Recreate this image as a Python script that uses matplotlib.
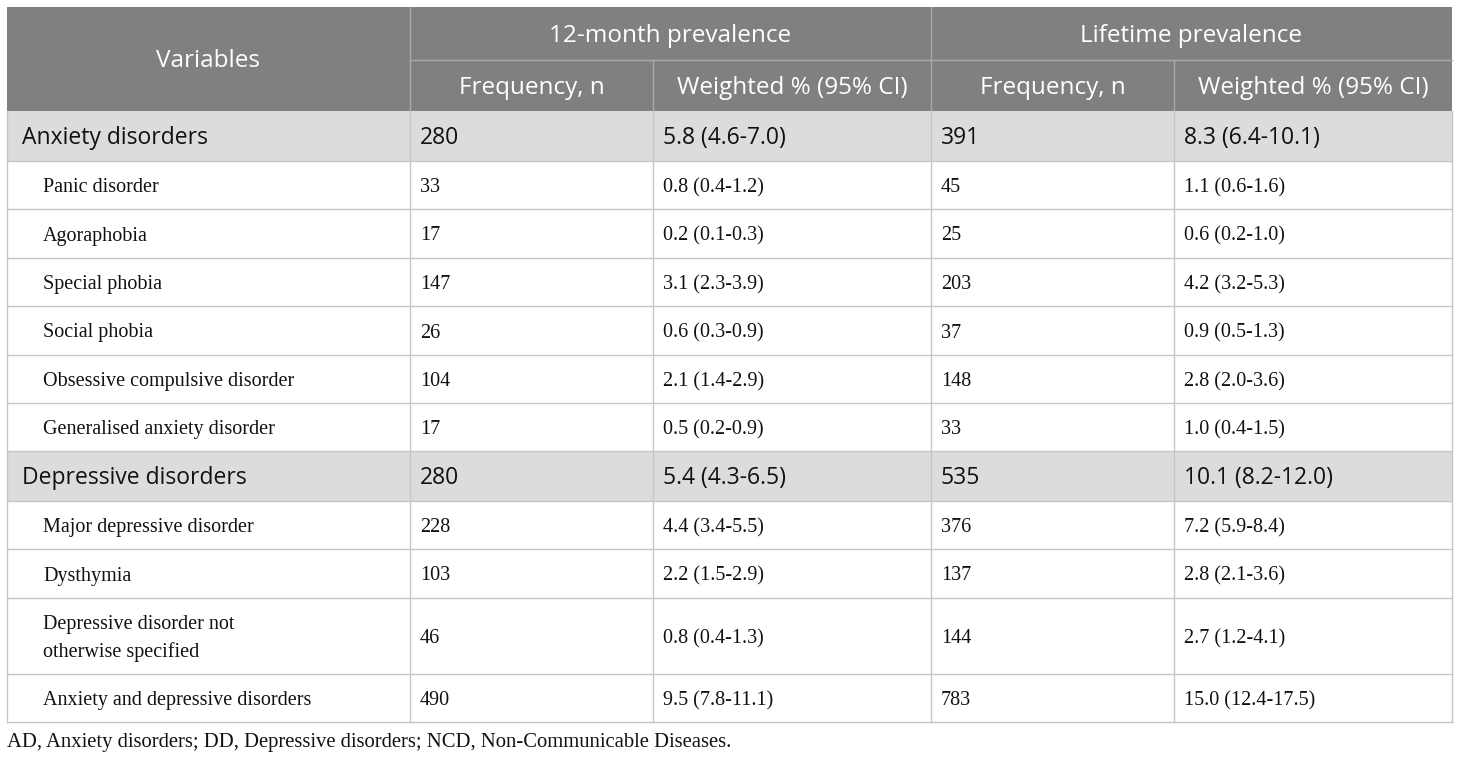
import matplotlib
matplotlib.use("Agg")
import matplotlib.pyplot as plt
from matplotlib.patches import Rectangle

# table content
variables = ["Anxiety disorders", "Panic disorder", "Agoraphobia", "Special phobia",
             "Social phobia", "Obsessive compulsive disorder", "Generalised anxiety disorder",
             "Depressive disorders", "Major depressive disorder", "Dysthymia",
             "Depressive disorder not\notherwise specified", "Anxiety and depressive disorders"]
is_group = [True, False, False, False, False, False, False, True, False, False, False, False]
freq_12m = ["280", "33", "17", "147", "26", "104", "17", "280", "228", "103", "46", "490"]
pct_12m = ["5.8 (4.6-7.0)", "0.8 (0.4-1.2)", "0.2 (0.1-0.3)", "3.1 (2.3-3.9)", "0.6 (0.3-0.9)",
           "2.1 (1.4-2.9)", "0.5 (0.2-0.9)", "5.4 (4.3-6.5)", "4.4 (3.4-5.5)", "2.2 (1.5-2.9)",
           "0.8 (0.4-1.3)", "9.5 (7.8-11.1)"]
freq_life = ["391", "45", "25", "203", "37", "148", "33", "535", "376", "137", "144", "783"]
pct_life = ["8.3 (6.4-10.1)", "1.1 (0.6-1.6)", "0.6 (0.2-1.0)", "4.2 (3.2-5.3)", "0.9 (0.5-1.3)",
            "2.8 (2.0-3.6)", "1.0 (0.4-1.5)", "10.1 (8.2-12.0)", "7.2 (5.9-8.4)", "2.8 (2.1-3.6)",
            "2.7 (1.2-4.1)", "15.0 (12.4-17.5)"]
group_headers = ["12-month prevalence", "Lifetime prevalence"]
sub_headers = ["Frequency, n", "Weighted % (95% CI)"]
footnote = "AD, Anxiety disorders; DD, Depressive disorders; NCD, Non-Communicable Diseases."

# layout in pixels
W, H = 1460, 759
col_x = [7, 410, 653, 931, 1174, 1452]
head_y = [7, 60, 111]
row_h = [50, 48, 49, 48, 49, 48, 48, 50, 48, 49, 76, 48]

head_bg = "#7f8180"
group_bg = "#dcdcdc"
line_c = "#c6c6c6"
sans = ["Open Sans", "DejaVu Sans"]
serif = ["Liberation Serif", "DejaVu Serif"]
fs_head = 17.5
fs_sans = 16.5
fs_serif = 14.5

fig = plt.figure(figsize=(W / 100, H / 100), dpi=100)
ax = fig.add_axes([0, 0, 1, 1])
ax.set_xlim(0, W)
ax.set_ylim(H, 0)
ax.axis("off")

# header
ax.add_patch(Rectangle((col_x[0], head_y[0]), col_x[-1] - col_x[0], head_y[2] - head_y[0],
                       facecolor=head_bg, edgecolor="none"))
ax.text((col_x[0] + col_x[1]) / 2, (head_y[0] + head_y[2]) / 2 + 2, "Variables",
        color="white", fontsize=fs_head, family=sans, ha="center", va="center")
for g in range(2):
    x0, x1 = col_x[1 + 2 * g], col_x[3 + 2 * g]
    ax.text((x0 + x1) / 2, (head_y[0] + head_y[1]) / 2 + 2, group_headers[g],
            color="white", fontsize=fs_head, family=sans, ha="center", va="center")
    for s in range(2):
        a, b = col_x[1 + 2 * g + s], col_x[2 + 2 * g + s]
        ax.text((a + b) / 2, (head_y[1] + head_y[2]) / 2 + 2, sub_headers[s],
                color="white", fontsize=fs_head, family=sans, ha="center", va="center")
# header inner lines
ax.plot([col_x[1], col_x[-1]], [head_y[1], head_y[1]], color="#a8a9a8", lw=1)
for i, x in enumerate(col_x[1:-1]):
    ytop = head_y[0] if i % 2 == 0 else head_y[1]
    ax.plot([x, x], [ytop, head_y[2]], color="#a8a9a8", lw=1)

# body rows
y = head_y[2]
for i in range(len(variables)):
    h = row_h[i]
    cells = [variables[i], freq_12m[i], pct_12m[i], freq_life[i], pct_life[i]]
    if is_group[i]:
        ax.add_patch(Rectangle((col_x[0], y), col_x[-1] - col_x[0], h,
                               facecolor=group_bg, edgecolor="none"))
    for c, txt in enumerate(cells):
        if is_group[i]:
            xpos = col_x[c] + (15 if c == 0 else 10)
            ax.text(xpos, y + h / 2 + 2, txt, fontsize=fs_sans, family=sans,
                    color="#111111", ha="left", va="center")
        else:
            xpos = col_x[c] + (36 if c == 0 else 10)
            ax.text(xpos, y + h / 2 + 2.5, txt, fontsize=fs_serif, family=serif,
                    color="#111111", ha="left", va="center", linespacing=1.5)
    y += h
    ax.plot([col_x[0], col_x[-1]], [y, y], color=line_c, lw=1)

# body vertical lines
for x in col_x:
    ax.plot([x, x], [head_y[2], y], color=line_c, lw=1)

ax.text(7, 742, footnote, fontsize=14.9, family=serif, color="#111111",
        ha="left", va="center")

fig.savefig("out.png", dpi=100)
